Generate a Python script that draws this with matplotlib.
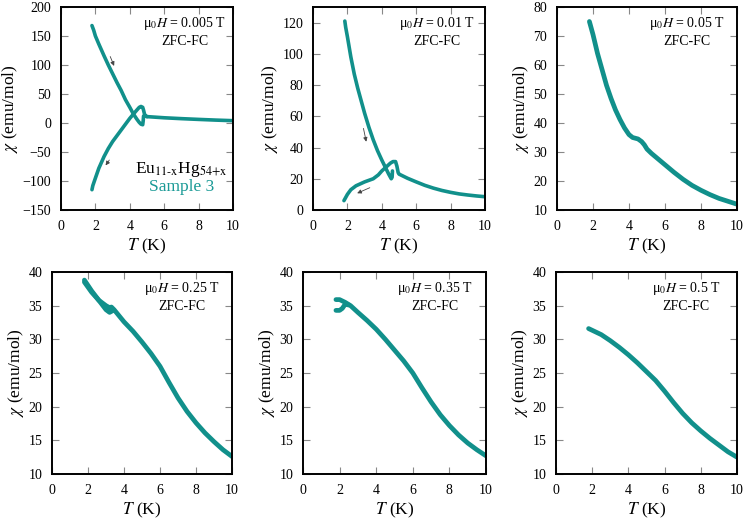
import numpy as np
import matplotlib
matplotlib.use("Agg")
from matplotlib import pyplot as plt

plt.rcParams['font.family'] = ['Liberation Serif', 'DejaVu Serif']
plt.rcParams['mathtext.fontset'] = 'stix'

TEAL = '#11908b'

# 0.005 T
T1_zfc = [1.8, 1.85, 2.0, 2.2, 2.5, 2.75, 3.0, 3.25, 3.5, 3.75, 4.0, 4.2, 4.4, 4.55, 4.65, 4.75, 4.8, 4.85,
          4.9, 5.0, 5.5, 6.0, 7.0, 8.0, 9.0, 10.0]
X1_zfc = [-115, -108, -95, -78, -58, -44, -32, -22, -12, -2, 8, 15, 22, 27, 28.5, 27, 22, 16,
          12, 11, 10, 9, 7.5, 6.2, 5, 4]
T1_fc = [1.8, 1.9, 2.0, 2.2, 2.5, 2.75, 3.0, 3.25, 3.5, 3.75, 4.0, 4.2, 4.4, 4.55, 4.65, 4.75, 4.78, 4.8,
         4.9, 5.0]
X1_fc = [168, 160, 150, 136, 116, 100, 85, 70, 56, 40, 27, 16, 7, 1, -2, -3, 4, 12,
         13, 11]

# 0.01 T
T2_fc = [1.85, 1.9, 2.0, 2.2, 2.4, 2.6, 2.8, 3.0, 3.25, 3.5, 3.75, 4.0, 4.2, 4.4, 4.5, 4.55, 4.6, 4.62]
X2_fc = [121, 117, 111, 98, 87, 78, 70, 62, 53, 45, 38, 32, 27.5, 23, 21, 20, 21, 25]
T2_zfc = [1.8, 1.9, 2.0, 2.2, 2.5, 2.8, 3.0, 3.5, 3.8, 4.0, 4.3, 4.5, 4.65, 4.8, 4.88, 4.95, 5.0, 5.5,
          6.0, 6.5, 7.0, 7.5, 8.0, 8.5, 9.0, 9.5, 10.0]
X2_zfc = [6, 8, 10, 13, 15.5, 17, 18, 20, 22.5, 25, 28, 30, 31, 31, 28, 24, 23, 20.3,
          18, 15.8, 14, 12.5, 11.3, 10.3, 9.6, 9, 8.5]

# 0.05 T
T3 = [1.8, 2.0, 2.25, 2.5, 2.75, 3.0, 3.25, 3.5, 3.75, 4.0, 4.2, 4.5, 4.7, 4.85, 5.0, 5.25, 5.5,
      6.0, 6.5, 7.0, 7.5, 8.0, 8.5, 9.0, 9.5, 10.0]
X3 = [75, 70.5, 64, 58.5, 53, 48.5, 44.5, 41.2, 38.3, 36, 35, 34.5, 33.6, 32.5, 31, 29.5, 28.2,
      25.6, 23, 20.6, 18.5, 16.8, 15.3, 14, 13, 12]

# 0.25 T
T4_a = [1.8, 2.2, 2.6, 3.0, 3.2, 3.4]
X4_a = [38.8, 37.2, 35.8, 34.4, 34.0, 34.3]
T4_b = [1.8, 2.2, 2.6, 3.0, 3.2, 3.3, 3.45, 4.0, 4.5, 5.0, 5.5, 6.0, 6.5, 7.0, 7.5, 8.0, 8.5, 9.0,
        9.5, 10.0]
X4_b = [38.5, 37.0, 35.8, 35.0, 34.7, 34.8, 34.4, 32.6, 31.2, 29.6, 27.9, 26.0, 23.6, 21.3, 19.3,
        17.6, 16.1, 14.8, 13.6, 12.6]

# 0.35 T
T5_a = [1.8, 2.0, 2.3, 2.6, 3.0, 3.5, 4.0, 4.5, 5.0, 5.5, 6.0, 6.5, 7.0, 7.5, 8.0, 8.5, 9.0, 9.5, 10.0]
X5_a = [35.9, 35.9, 35.5, 35.0, 34.0, 32.8, 31.5, 30.0, 28.4, 26.8, 25.0, 22.8, 20.7, 18.8, 17.2,
        15.8, 14.6, 13.6, 12.7]
T5_b = [1.8, 2.0, 2.15, 2.3, 2.5]
X5_b = [34.3, 34.3, 34.6, 35.2, 35.1]

# 0.5 T
T6 = [1.8, 2.5, 3.0, 3.5, 4.0, 4.5, 5.0, 5.5, 6.0, 6.5, 7.0, 7.5, 8.0, 8.5, 9.0, 9.5, 10.0]
X6 = [31.6, 30.7, 29.8, 28.8, 27.7, 26.5, 25.2, 23.9, 22.3, 20.6, 19.0, 17.6, 16.4, 15.3, 14.3,
      13.3, 12.5]

fields = ['0.005', '0.01', '0.05', '0.25', '0.35', '0.5']
ylims = [(-150, 200), (0, 130), (10, 80), (10, 40), (10, 40), (10, 40)]
yticks = [np.arange(-150, 201, 50), np.arange(0, 121, 20), np.arange(10, 81, 10),
          np.arange(10, 41, 5), np.arange(10, 41, 5), np.arange(10, 41, 5)]

W, H = 750, 521
boxes = [(61, 7, 172, 203), (313, 7, 172, 203), (557, 7, 180, 203),
         (52, 272, 180, 202), (303, 272, 183, 202), (556, 272, 181, 202)]

fig = plt.figure(figsize=(7.5, 5.21), dpi=100)
axes = []
for (l, t, w, h) in boxes:
    axes.append(fig.add_axes([l / W, (H - t - h) / H, w / W, h / H]))

curves = [[(T1_zfc, X1_zfc), (T1_fc, X1_fc)],
          [(T2_fc, X2_fc), (T2_zfc, X2_zfc)],
          [(T3, X3)],
          [(T4_a, X4_a), (T4_b, X4_b)],
          [(T5_a, X5_a), (T5_b, X5_b)],
          [(T6, X6)]]

for i, ax in enumerate(axes):
    for T, X in curves[i]:
        lw = 2.6 if i < 2 else 3.4
        ax.plot(T, X, color=TEAL, lw=lw, solid_capstyle='round', solid_joinstyle='round')
    ax.set_xlim(0, 10)
    ax.set_ylim(*ylims[i])
    ax.set_xticks([0, 2, 4, 6, 8, 10])
    ax.set_yticks(yticks[i])
    ax.tick_params(direction='in', top=True, right=True, length=5,
                   color='#888888', labelsize=10, pad=7)
    for s in ax.spines.values():
        s.set_linewidth(1.4)
    ax.set_xlabel('$T$ (K)', fontsize=12.5, labelpad=3)
    ax.set_ylabel(r'$\chi$ (emu/mol)', fontsize=12.5, labelpad=2)
    ax.text(0.72, 0.92, 'μ$_0$$H$ = ' + fields[i] + ' T', transform=ax.transAxes,
            ha='center', va='center', fontsize=10)
    ax.text(0.72, 0.83, 'ZFC-FC', transform=ax.transAxes,
            ha='center', va='center', fontsize=10)

axes[0].text(0.7, 0.2, r'Eu$_{\text{11-x}}$Hg$_{\text{54+x}}$', transform=axes[0].transAxes,
             ha='center', va='center', fontsize=12.5)
axes[0].text(0.7, 0.115, 'Sample 3', transform=axes[0].transAxes,
             ha='center', va='center', fontsize=12.5, color='#1a9a96')

arw = dict(arrowstyle='-|>', color='#444444', lw=0.6, mutation_scale=6)
axes[0].annotate('', xy=(3.15, 94), xytext=(2.8, 119), arrowprops=arw)
axes[0].annotate('', xy=(2.5, -77), xytext=(2.9, -60), arrowprops=arw)
axes[1].annotate('', xy=(3.13, 42), xytext=(2.9, 54), arrowprops=arw)
axes[1].annotate('', xy=(2.42, 10), xytext=(3.45, 15), arrowprops=arw)

fig.savefig('out.png', dpi=100)
